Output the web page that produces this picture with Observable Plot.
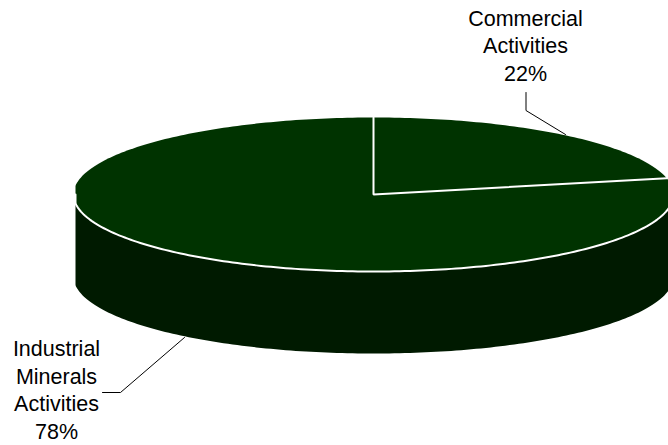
<!DOCTYPE html>
<html>
<head>
<meta charset="utf-8">
<style>
html,body{margin:0;padding:0;background:#fff}
svg{display:block}
</style>
<script src="https://cdn.jsdelivr.net/npm/d3@7"></script>
<script src="https://cdn.jsdelivr.net/npm/@observablehq/plot@0.6"></script>
</head>
<body>
<div id="chart"></div>
<script>
// Data
const categories = ["Commercial\nActivities", "Industrial\nMinerals\nActivities"];
const shares = [21.6, 78.4];

// Pie geometry (in the x/y scale units)
const cx = 373, cy = 194, rx = 300, ry = 77, depth = 82, leftLimit = 75;

const angleOf = p => p / 100 * 2 * Math.PI;
const rim = (deg) => {
  const a = deg * Math.PI / 180;
  return {x: Math.max(leftLimit, cx + rx * Math.sin(a)), y: cy - ry * Math.cos(a)};
};
const degrees = d3.range(0, 361, 1);
const topFace = degrees.map(rim);
const frontArc = d3.range(90, 271, 1).map(rim);
const sideWall = [...frontArc, ...frontArc.slice().reverse().map(p => ({x: p.x, y: p.y + depth}))];

const endDeg = angleOf(shares[0]) * 180 / Math.PI;
const spokes = [rim(0), {x: cx, y: cy}, rim(endDeg)];

const pct = shares.map(s => Math.round(s) + "%");
const labels = [
  {text: categories[0] + "\n" + pct[0], x: 525, y: 44},
  {text: categories[1] + "\n" + pct[1], x: 56, y: 388}
];
const leaderA = [{x: 525.5, y: 92}, {x: 525.5, y: 110}, {x: 565, y: 134}];
const leaderB = [{x: 102, y: 392}, {x: 120, y: 392}, {x: 184, y: 337}];

const plot = Plot.plot({
  width: 668, height: 445,
  margin: 0,
  x: {domain: [0, 668], range: [0, 668], axis: null},
  y: {domain: [0, 445], range: [0, 445], axis: null},
  marks: [
    Plot.line(sideWall, {x: "x", y: "y", fill: "#001a00", stroke: "none", curve: "linear"}),
    Plot.line(topFace, {x: "x", y: "y", fill: "#003300", stroke: "none", curve: "linear"}),
    Plot.line(frontArc, {x: "x", y: "y", stroke: "#ffffff", strokeWidth: 2, curve: "linear"}),
    Plot.line(spokes, {x: "x", y: "y", stroke: "#ffffff", strokeWidth: 2, curve: "linear", strokeLinejoin: "miter"}),
    Plot.line(leaderA, {x: "x", y: "y", stroke: "#000000", strokeWidth: 1, curve: "linear"}),
    Plot.line(leaderB, {x: "x", y: "y", stroke: "#000000", strokeWidth: 1, curve: "linear"}),
    Plot.text(labels, {
      x: "x", y: "y", text: "text", fontSize: 21.5, lineHeight: 1.28,
      fontFamily: "Liberation Sans", fill: "#000000", textAnchor: "middle", lineAnchor: "middle"
    })
  ]
});
plot.style.fontFamily = "'Liberation Sans'";
plot.style.background = "#ffffff";
document.getElementById("chart").appendChild(plot);
</script>
</body>
</html>
